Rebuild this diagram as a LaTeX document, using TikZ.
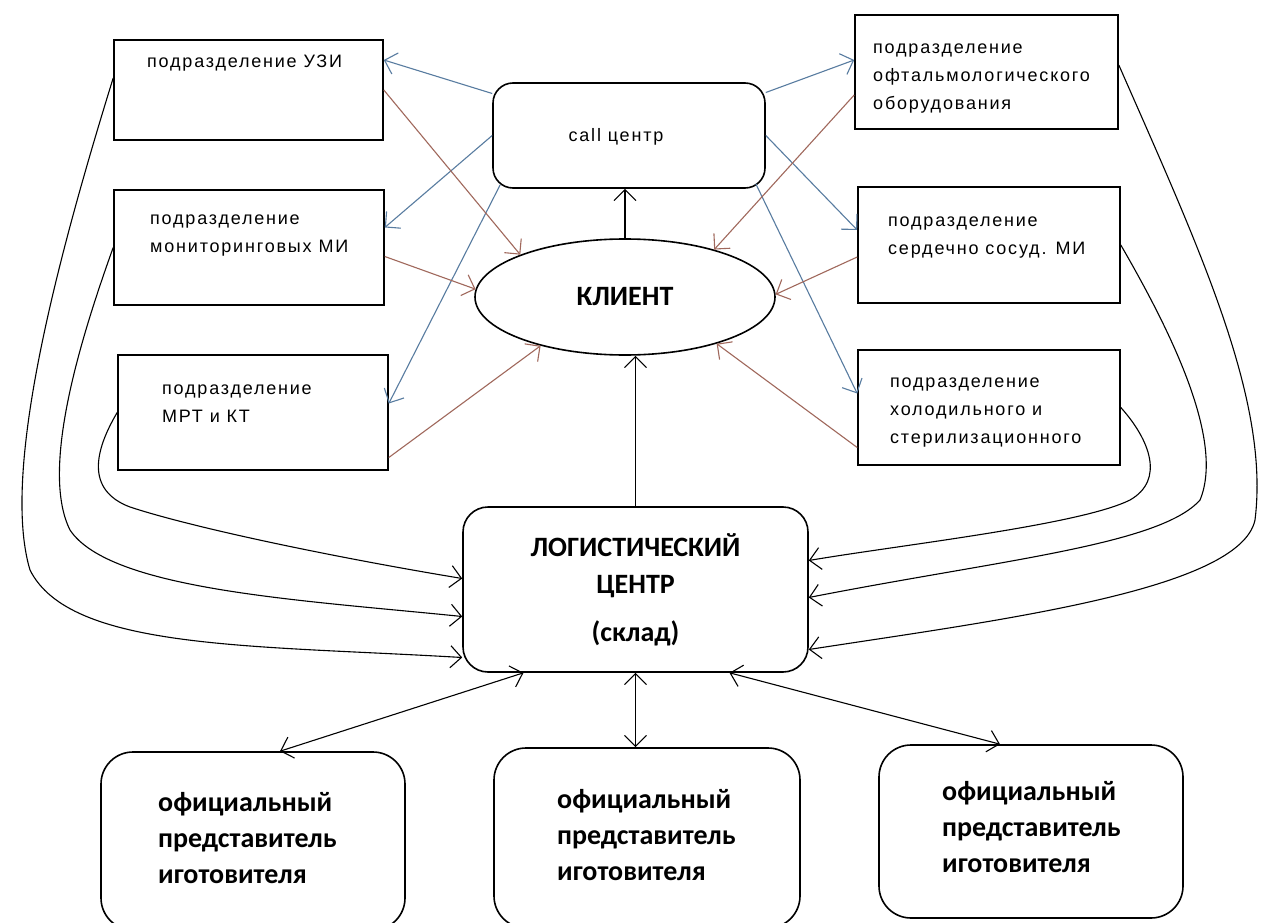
\documentclass[tikz,border=0pt]{standalone}
\usepackage{fontspec}
\setmainfont{Liberation Sans}
\newfontfamily\boxfont[LetterSpace=10]{Liberation Sans}
\newfontfamily\calfont{Carlito}
\usetikzlibrary{arrows.meta,shapes.geometric}
\definecolor{callblue}{RGB}{88,124,160}
\definecolor{clientbrown}{RGB}{160,104,92}

\begin{document}
\begin{tikzpicture}[x=1pt,y=-1pt,
    unit/.style={draw,line width=1.6pt,inner sep=0pt},
    hub/.style={unit,rounded corners=20pt},
    rep/.style={unit,rounded corners=32pt},
    unittext/.style={anchor=west,align=left,inner sep=0pt,font=\boxfont\fontsize{18}{28}\selectfont},
    reptext/.style={anchor=west,align=left,inner sep=0pt,font=\calfont\bfseries\fontsize{28}{36}\selectfont},
    barb/.tip={Straight Barb[length=11pt,width=22pt]},
    link/.style={line width=1.1pt,-barb},
    tolink/.style={link,callblue},
    fromlink/.style={link,clientbrown},
    both/.style={line width=1.1pt,barb-barb}]
    \fill[white] (0,0) rectangle (1261,923);
    \useasboundingbox (0,0) rectangle (1261,923);

    % подразделения слева
    \node[unit,minimum width=269pt,minimum height=100pt] (uzi) at (248.5,90) {};
    \node[unit,minimum width=270pt,minimum height=115pt] (monit) at (249,247.5) {};
    \node[unit,minimum width=270pt,minimum height=115pt] (mrt) at (253,412.5) {};
    \node[unittext] (uziText) at (147,63) {подразделение УЗИ};
    \node[unittext] (monitText) at (150,236) {подразделение\\мониторинговых МИ};
    \node[unittext] (mrtText) at (162,403.5) {подразделение\\МРТ и КТ};

    % подразделения справа
    \node[unit,minimum width=263pt,minimum height=114pt] (oft) at (986.5,72) {};
    \node[unit,minimum width=262pt,minimum height=116pt] (serd) at (989,245) {};
    \node[unit,minimum width=262pt,minimum height=115pt] (hol) at (989,407.5) {};
    \node[unittext] (oftText) at (873,78.5) {подразделение\\офтальмологического\\оборудования};
    \node[unittext] (serdText) at (888,237.5) {подразделение\\сердечно сосуд. МИ};
    \node[unittext] (holText) at (890,412.5) {подразделение\\холодильного и\\стерилизационного};

    % центр
    \node[hub,minimum width=272pt,minimum height=105pt] (call) at (629,135.5) {};
    \node[inner sep=0pt,font=\boxfont\fontsize{18}{28}\selectfont] (callText) at (616,137) {call центр};
    \node[unit,ellipse,minimum width=300pt,minimum height=116pt,font=\calfont\bfseries\fontsize{28}{30}\selectfont] (client) at (625,297) {КЛИЕНТ};
    \node[unit,rounded corners=25pt,minimum width=345pt,minimum height=165pt,align=center,font=\calfont\bfseries\fontsize{28}{37}\selectfont] (log) at (635.5,589.5) {ЛОГИСТИЧЕСКИЙ\\ЦЕНТР\\[11pt](склад)};

    % представители
    \node[rep,minimum width=304pt,minimum height=178pt] (rep1) at (253,841) {};
    \node[rep,minimum width=306pt,minimum height=180pt] (rep2) at (647,838) {};
    \node[rep,minimum width=304pt,minimum height=173pt] (rep3) at (1031,831.5) {};
    \node[reptext] (rep1Text) at (158,838) {официальный\\представитель\\иготовителя};
    \node[reptext] (rep2Text) at (557,835) {официальный\\представитель\\иготовителя};
    \node[reptext] (rep3Text) at (942,827) {официальный\\представитель\\иготовителя};

    % call центр -> подразделения
    \draw[tolink] ([yshift=42pt]call.west) -- ([yshift=30pt]uzi.east);
    \draw[tolink] (call.west) -- ([yshift=20pt]monit.east);
    \draw[tolink] ([xshift=8pt,yshift=4pt]call.south west) -- ([yshift=9pt]mrt.east);
    \draw[tolink] ([yshift=43pt]call.east) -- ([yshift=12pt]oft.west);
    \draw[tolink] (call.east) -- ([yshift=15pt]serd.west);
    \draw[tolink] ([xshift=-10pt,yshift=5pt]call.south east) -- ([yshift=14pt]hol.west);

    % подразделения -> клиент
    \draw[fromlink] (uzi.east) -- (client.158);
    \draw[fromlink] ([yshift=-9pt]monit.east) -- (client.177);
    \draw[fromlink] ([yshift=-45pt]mrt.east) -- (client.210);
    \draw[fromlink] ([yshift=-23pt]oft.west) -- (client.28);
    \draw[fromlink] ([yshift=-12pt]serd.west) -- (client.1);
    \draw[fromlink] ([yshift=-40pt]hol.west) -- (client.333);

    \draw[link] (client.north) -- (client.north |- call.south);
    \draw[link] (log.north) -- (log.north |- client.south);

    % подразделения -> склад
    \draw[link] ([yshift=12pt]uzi.west) .. controls (60,250) and (0,470) .. (30,570) .. controls (70,650) and (250,645) .. ([yshift=-68pt]log.west);
    \draw[link] (monit.west) .. controls (80,340) and (40,470) .. (70,530) .. controls (110,590) and (300,600) .. ([yshift=-27pt]log.west);
    \draw[link] (mrt.west) .. controls (95,450) and (85,490) .. (130,507) .. controls (200,530) and (350,560) .. ([yshift=11pt]log.west);
    \draw[link] ([yshift=7pt]oft.east) .. controls (1200,250) and (1270,400) .. (1255,520) .. controls (1240,590) and (1000,620) .. ([yshift=-60pt]log.east);
    \draw[link] (serd.east) .. controls (1170,330) and (1225,440) .. (1200,500) .. controls (1160,545) and (1000,560) .. ([yshift=-8pt]log.east);
    \draw[link] (hol.east) .. controls (1150,440) and (1165,480) .. (1130,500) .. controls (1080,525) and (900,545) .. ([yshift=29pt]log.east);

    % склад <-> представители
    \draw[both] ([xshift=-112pt]log.south) -- ([xshift=27pt]rep1.north);
    \draw[both] (log.south) -- (log.south |- rep2.north);
    \draw[both] ([xshift=94pt]log.south) -- ([xshift=-31pt]rep3.north);
\end{tikzpicture}
\end{document}
